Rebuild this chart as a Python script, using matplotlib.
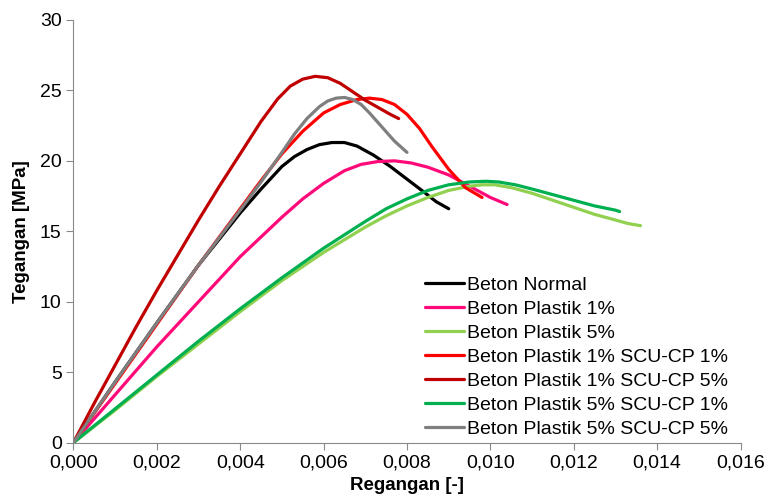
import numpy as np
import matplotlib
matplotlib.use('Agg')
import matplotlib.pyplot as plt

plt.rcParams['font.family'] = ['Liberation Sans', 'DejaVu Sans']

# strain [-] / stress [MPa]
normal_x = [0, 0.001, 0.002, 0.003, 0.004, 0.0045, 0.005, 0.0053, 0.0056, 0.0059, 0.0062, 0.0065, 0.0068, 0.0072, 0.0076, 0.008, 0.0084, 0.0087, 0.009]
normal_y = [0, 4.3, 8.5, 12.6, 16.3, 18.0, 19.6, 20.3, 20.8, 21.15, 21.3, 21.3, 21.05, 20.4, 19.6, 18.7, 17.8, 17.1, 16.6]

p1_x = [0, 0.001, 0.002, 0.003, 0.004, 0.0045, 0.005, 0.0055, 0.006, 0.0065, 0.0069, 0.0073, 0.0077, 0.0081, 0.0085, 0.009, 0.0095, 0.01, 0.0104]
p1_y = [0, 3.4, 6.8, 10.0, 13.2, 14.6, 16.0, 17.3, 18.4, 19.3, 19.75, 19.95, 20.0, 19.85, 19.55, 19.0, 18.2, 17.4, 16.9]

p5_x = [0, 0.001, 0.002, 0.003, 0.004, 0.005, 0.006, 0.007, 0.0075, 0.008, 0.0085, 0.009, 0.0095, 0.0098, 0.0101, 0.0105, 0.011, 0.0115, 0.012, 0.0125, 0.013, 0.0133, 0.0136]
p5_y = [0, 2.3, 4.7, 7.0, 9.3, 11.5, 13.5, 15.3, 16.1, 16.8, 17.4, 17.9, 18.2, 18.3, 18.3, 18.1, 17.7, 17.2, 16.7, 16.2, 15.8, 15.55, 15.4]

p1s1_x = [0, 0.001, 0.002, 0.003, 0.004, 0.0045, 0.005, 0.0055, 0.006, 0.0064, 0.0068, 0.0071, 0.0074, 0.0077, 0.008, 0.0083, 0.0086, 0.009, 0.0094, 0.0098]
p1s1_y = [0, 4.2, 8.4, 12.6, 16.6, 18.6, 20.5, 22.1, 23.4, 24.0, 24.35, 24.45, 24.35, 24.0, 23.3, 22.3, 21.0, 19.4, 18.1, 17.4]

p1s5_x = [0, 0.0005, 0.001, 0.0015, 0.002, 0.0025, 0.003, 0.0035, 0.004, 0.0045, 0.0049, 0.0052, 0.0055, 0.0058, 0.0061, 0.0064, 0.0067, 0.007, 0.0073, 0.0076, 0.0078]
p1s5_y = [0, 2.8, 5.5, 8.2, 10.8, 13.3, 15.8, 18.2, 20.5, 22.8, 24.4, 25.3, 25.8, 26.0, 25.9, 25.5, 24.9, 24.3, 23.8, 23.3, 23.0]

p5s1_x = [0, 0.001, 0.002, 0.003, 0.004, 0.005, 0.006, 0.007, 0.0075, 0.008, 0.0085, 0.009, 0.0095, 0.0099, 0.0102, 0.0106, 0.011, 0.0115, 0.012, 0.0125, 0.013, 0.0131]
p5s1_y = [0, 2.4, 4.8, 7.2, 9.5, 11.7, 13.8, 15.7, 16.6, 17.3, 17.9, 18.3, 18.5, 18.55, 18.5, 18.3, 18.0, 17.6, 17.2, 16.8, 16.5, 16.4]

p5s5_x = [0, 0.001, 0.002, 0.003, 0.004, 0.0045, 0.005, 0.0053, 0.0056, 0.0059, 0.0061, 0.0063, 0.0065, 0.0067, 0.0069, 0.0071, 0.0074, 0.0077, 0.008]
p5s5_y = [0, 4.3, 8.5, 12.6, 16.5, 18.5, 20.6, 21.9, 23.0, 23.85, 24.25, 24.45, 24.5, 24.35, 24.0, 23.4, 22.4, 21.4, 20.6]

labels = ['Beton Normal', 'Beton Plastik 1%', 'Beton Plastik 5%',
          'Beton Plastik 1% SCU-CP 1%', 'Beton Plastik 1% SCU-CP 5%',
          'Beton Plastik 5% SCU-CP 1%', 'Beton Plastik 5% SCU-CP 5%']
colors = ['#000000', '#FF0A78', '#92D050', '#FF0000', '#C00000', '#00B050', '#7F7F7F']

series = [(normal_x, normal_y), (p1_x, p1_y), (p5_x, p5_y), (p1s1_x, p1s1_y),
          (p1s5_x, p1s5_y), (p5s1_x, p5s1_y), (p5s5_x, p5s5_y)]

fig = plt.figure(figsize=(7.69, 4.99), dpi=100)
ax = fig.add_axes([0.0955, 0.113, 0.8675, 0.847])

for (x, y), lab, c in zip(series, labels, colors):
    ax.plot(x, y, color=c, lw=2.3, label=lab, solid_capstyle='round', solid_joinstyle='round')

ax.set_xlim(0, 0.016)
ax.set_ylim(0, 30)
xt = np.arange(0, 0.0161, 0.002)
ax.set_xticks(xt)
ax.set_xticklabels([f'{v:.3f}'.replace('.', ',') for v in xt])
ax.set_yticks(range(0, 31, 5))

for s in ['top', 'right']:
    ax.spines[s].set_visible(False)
for s in ['left', 'bottom']:
    ax.spines[s].set_color('#898989')
ax.tick_params(colors='#898989', labelcolor='black', labelsize=14, length=5)

ax.set_xlabel('Regangan [-]', fontsize=13.5, fontweight='bold', labelpad=4)
ax.set_ylabel('Tegangan [MPa]', fontsize=13.5, fontweight='bold', labelpad=7)

ax.legend(loc='center left', bbox_to_anchor=(0.553, 0.285), bbox_transform=fig.transFigure,
          frameon=False, fontsize=14, borderpad=0, borderaxespad=0,
          handlelength=2.0, handletextpad=0.15, labelspacing=0.33)

fig.savefig('out.png', dpi=100)
